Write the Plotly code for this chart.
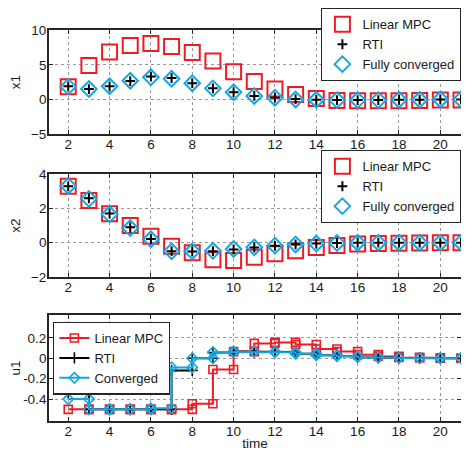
import plotly.graph_objects as go

# ---------------- data ----------------
t = list(range(2, 22))

x1_linear = [1.85, 4.9, 6.85, 7.8, 8.1, 7.65, 6.8, 5.55, 4.0, 2.6, 1.5, 0.7, 0.15, -0.15, -0.2, -0.2, -0.2, -0.15, -0.1, -0.1]
x1_rti = [1.9, 1.5, 1.9, 2.65, 3.3, 3.1, 2.35, 1.6, 1.05, 0.5, 0.25, 0.05, -0.05, -0.1, -0.1, -0.1, -0.05, -0.05, 0.0, 0.0]
x1_conv = [1.85, 1.5, 1.9, 2.7, 3.2, 3.0, 2.35, 1.6, 1.05, 0.5, 0.25, 0.0, -0.05, -0.1, -0.1, -0.1, -0.05, -0.05, 0.0, 0.0]

x2_linear = [3.28, 2.45, 1.68, 1.0, 0.38, -0.2, -0.58, -0.99, -1.03, -0.84, -0.64, -0.47, -0.28, -0.16, -0.08, -0.05, -0.03, -0.01, 0.0, 0.0]
x2_rti = [3.28, 2.58, 1.7, 0.9, 0.22, -0.49, -0.51, -0.49, -0.39, -0.28, -0.18, -0.1, -0.05, -0.02, 0.0, 0.0, 0.0, 0.0, 0.0, 0.0]
x2_conv = [3.3, 2.55, 1.65, 0.85, 0.2, -0.5, -0.5, -0.47, -0.37, -0.27, -0.17, -0.1, -0.05, -0.02, 0.0, 0.0, 0.0, 0.0, 0.0, 0.0]

u1_linear = [-0.5, -0.5, -0.5, -0.5, -0.5, -0.5, -0.445, -0.11, 0.065, 0.145, 0.155, 0.135, 0.09, 0.065, 0.035, 0.018, 0.008, 0.004, 0.0, 0.0]
u1_rti = [-0.34, -0.5, -0.5, -0.5, -0.5, -0.12, 0.0, 0.055, 0.065, 0.065, 0.06, 0.045, 0.03, 0.02, 0.01, 0.005, 0.002, 0.0, 0.0, 0.0]
u1_conv = [-0.4, -0.5, -0.5, -0.5, -0.49, -0.09, 0.0, 0.06, 0.065, 0.065, 0.058, 0.045, 0.03, 0.02, 0.01, 0.005, 0.002, 0.0, 0.0, 0.0]

x_ticks = [2, 4, 6, 8, 10, 12, 14, 16, 18, 20]
x1_ticks = [-5, 0, 5, 10]
x2_ticks = [-2, 0, 2, 4]
u1_ticks = [-0.4, -0.2, 0, 0.2]
u1_ticklabels = ["-0.4", "-0.2", "0", "0.2"]

RED = "#EC1C24"
BLUE = "#15A6E2"
BLACK = "#000000"
TXT = "#1a1a1a"
FONT = "Liberation Sans, Arial, sans-serif"


def stairs(xv, yv):
    xs, ys = [xv[0]], [yv[0]]
    for i in range(1, len(xv)):
        xs += [xv[i], xv[i]]
        ys += [yv[i - 1], yv[i]]
    return xs, ys


fig = go.Figure()

# ----- top panel: x1 -----
fig.add_trace(go.Scatter(x=t, y=x1_linear, mode="markers", name="Linear MPC",
                         marker=dict(symbol="square-open", size=15, color=RED, line=dict(width=2, color=RED)),
                         xaxis="x", yaxis="y", legend="legend"))
fig.add_trace(go.Scatter(x=t, y=x1_rti, mode="markers", name="RTI",
                         marker=dict(symbol="cross-thin-open", size=7, color=BLACK, line=dict(width=2, color=BLACK)),
                         xaxis="x", yaxis="y", legend="legend"))
fig.add_trace(go.Scatter(x=t, y=x1_conv, mode="markers", name="Fully converged",
                         marker=dict(symbol="diamond-open", size=12, color=BLUE, line=dict(width=2, color=BLUE)),
                         xaxis="x", yaxis="y", legend="legend"))

# ----- middle panel: x2 -----
fig.add_trace(go.Scatter(x=t, y=x2_linear, mode="markers", name="Linear MPC",
                         marker=dict(symbol="square-open", size=15, color=RED, line=dict(width=2, color=RED)),
                         xaxis="x2", yaxis="y2", legend="legend2"))
fig.add_trace(go.Scatter(x=t, y=x2_rti, mode="markers", name="RTI",
                         marker=dict(symbol="cross-thin-open", size=7, color=BLACK, line=dict(width=2, color=BLACK)),
                         xaxis="x2", yaxis="y2", legend="legend2"))
fig.add_trace(go.Scatter(x=t, y=x2_conv, mode="markers", name="Fully converged",
                         marker=dict(symbol="diamond-open", size=12, color=BLUE, line=dict(width=2, color=BLUE)),
                         xaxis="x2", yaxis="y2", legend="legend2"))

# ----- bottom panel: u1 stairs -----
for name, vals, color, sym, size in [
    ("Linear MPC", u1_linear, RED, "square-open", 8),
    ("RTI", u1_rti, BLACK, "cross-thin-open", 8),
    ("Converged", u1_conv, BLUE, "diamond-open", 8),
]:
    sx, sy = stairs(t, vals)
    fig.add_trace(go.Scatter(x=sx, y=sy, mode="lines+markers", name=name,
                             line=dict(color=color, width=2),
                             marker=dict(symbol=sym, size=size, color=color, line=dict(width=1.6, color=color)),
                             xaxis="x3", yaxis="y3", legend="legend3"))

# page body adds an 8px margin; the figure is sized/positioned to compensate
OFF = 8
W, H = 469 - OFF, 451 - OFF


def px_x(v):
    return (v - OFF) / W


def px_y(v):
    return 1 - (v - OFF) / H


xdom = [px_x(49), px_x(461)]


def ydom(top, bottom):
    return [px_y(bottom), px_y(top)]


axis_common = dict(showline=True, linecolor="#262626", linewidth=1.8, mirror="ticks",
                   ticks="inside", ticklen=4, tickcolor="#262626", tickwidth=1, automargin=False,
                   showgrid=True, gridcolor="#9a9a9a", griddash="dot", gridwidth=1,
                   zeroline=False, tickfont=dict(family=FONT, size=13.5, color=TXT))

xcommon = dict(axis_common, range=[1.07, 21], tickmode="array", tickvals=x_ticks, domain=xdom,
               ticklabelstandoff=-3)

legend_common = dict(bgcolor="white", bordercolor="#262626", borderwidth=1.4,
                     font=dict(family=FONT, size=13, color=TXT),
                     xanchor="left", yanchor="top", tracegroupgap=0)

fig.update_layout(
    template="none",
    width=W, height=H,
    margin=dict(l=0, r=0, t=0, b=0, pad=0),
    paper_bgcolor="white", plot_bgcolor="white",
    font=dict(family=FONT, size=13, color=TXT),
    xaxis=dict(xcommon, anchor="y"),
    yaxis=dict(axis_common, range=[-5, 10], tickmode="array", tickvals=x1_ticks, domain=ydom(29.3, 133.3),
               anchor="x", ticklabelstandoff=-2,
               title=dict(text="x1", standoff=9, font=dict(family=FONT, size=13.5, color=TXT))),
    xaxis2=dict(xcommon, anchor="y2"),
    yaxis2=dict(axis_common, range=[-2, 4], tickmode="array", tickvals=x2_ticks, domain=ydom(173.3, 276.7),
                anchor="x2", ticklabelstandoff=-2,
                title=dict(text="x2", standoff=9, font=dict(family=FONT, size=13.5, color=TXT))),
    xaxis3=dict(xcommon, anchor="y3",
                title=dict(text="time", standoff=3, font=dict(family=FONT, size=13.5, color=TXT))),
    yaxis3=dict(axis_common, range=[-0.61, 0.42], tickmode="array", tickvals=u1_ticks, ticktext=u1_ticklabels,
                domain=ydom(315, 420.5), anchor="x3", ticklabelstandoff=-2,
                title=dict(text="u1", standoff=2, font=dict(family=FONT, size=13.5, color=TXT))),
    legend=dict(legend_common, x=px_x(321), y=px_y(7)),
    legend2=dict(legend_common, x=px_x(321), y=px_y(150)),
    legend3=dict(legend_common, x=px_x(53), y=px_y(321.7)),
    showlegend=True,
)

fig.write_html("out.html")
